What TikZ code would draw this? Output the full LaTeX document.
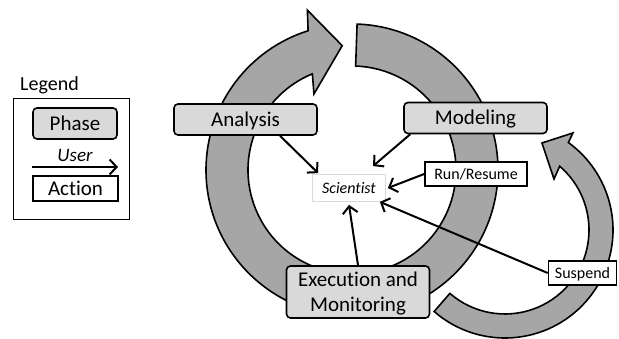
\documentclass[tikz,border=0pt]{standalone}
\usepackage{fontspec}
\setmainfont{Carlito}[Ligatures={NoCommon}]
\usepackage{tikz}
\usetikzlibrary{arrows.meta, positioning}
\definecolor{phasegray}{RGB}{217,217,217}
\definecolor{ringgray}{RGB}{166,166,166}

\begin{document}
\begin{tikzpicture}[x=1pt,y=1pt]
\tikzstyle{every node}+=[inner sep=0pt]
\tikzstyle{phase}=[draw=black, line width=1.6pt, fill=phasegray, rounded corners=4pt, minimum width=143pt, minimum height=31pt, text height=13.5pt, text depth=0pt, font=\fontsize{21}{25}\selectfont]
\tikzstyle{action}=[draw=black, line width=1.6pt, fill=white, minimum height=24pt, text height=10.3pt, text depth=0pt, font=\fontsize{16}{18}\selectfont]
\tikzstyle{user}=[black, line width=2pt, -{Straight Barb[length=7pt,width=15pt]}]
\tikzstyle{cycle}=[draw=black, line width=1.6pt, fill=ringgray]
\useasboundingbox (0,0) rectangle (619,339);
\begin{scope}[shift={(352,169)}]
\draw [cycle] (88:146) arc[start angle=88, end angle=-252.5, radius=146] -- (105.6:166) -- (94.5:124.7) -- (116.6:85) -- (112.4:104) arc[start angle=-247.6, end angle=88, radius=104] -- cycle;
\end{scope}
\begin{scope}[shift={(505,109)}]
\draw [cycle] (229:108) arc[start angle=229, end angle=414.1, radius=108] -- (55:118.5) -- (67:94.5) -- (46.1:70.7) -- (49.4:84) arc[start angle=409.4, end angle=229, radius=84] -- cycle;
\end{scope}
\node [anchor=base west, font=\fontsize{20}{24}\selectfont] (legendtitle) at (20,248) {Legend};
\node [draw=black, line width=1.2pt, minimum width=116, minimum height=121] (legendbox) at (71.5,180) {};
\node [phase, minimum width=84, minimum height=31] (legendphase) at (75,215.5) {Phase};
\coordinate (userstart) at (32,172);
\coordinate (userend) at (118,172);
\draw [user] (userstart) -- node [above=4pt, font=\itshape\fontsize{19}{22}\selectfont] (userlabel) {User} (userend);
\node [action, minimum width=85, minimum height=25, text height=13.5pt, font=\fontsize{21}{25}\selectfont] (legendaction) at (75.5,150.5) {Action};
\node [phase] (analysis) at (245.5,219.5) {Analysis};
\node [phase] (modeling) at (475.5,221) {Modeling};
\node [phase, minimum height=52pt, text height=, align=center] (execution) at (358,47) {Execution and\\Monitoring};
\node [draw=phasegray, line width=0.8pt, fill=white, minimum width=73, minimum height=27, text height=10.3pt, text depth=0pt, font=\itshape\fontsize{16}{18}\selectfont] (scientist) at (349,151) {Scientist};
\node [action, minimum width=102] (runresume) at (476,165) {Run/Resume};
\node [action, minimum width=68] (suspend) at (582.5,66) {Suspend};
\draw [user] ([xshift=34.5]analysis.south) -- ([xshift=6,yshift=1]scientist.north west);
\draw [user] ([xshift=7]modeling.south west) -- ([xshift=24,yshift=8]scientist.north);
\draw [user] (runresume.west) -- ([xshift=2]scientist.east);
\draw [user] (execution.north) -- ([yshift=-3]scientist.south);
\draw [user] (suspend.west) -- ([xshift=-6]scientist.south east);
\end{tikzpicture}
\end{document}
